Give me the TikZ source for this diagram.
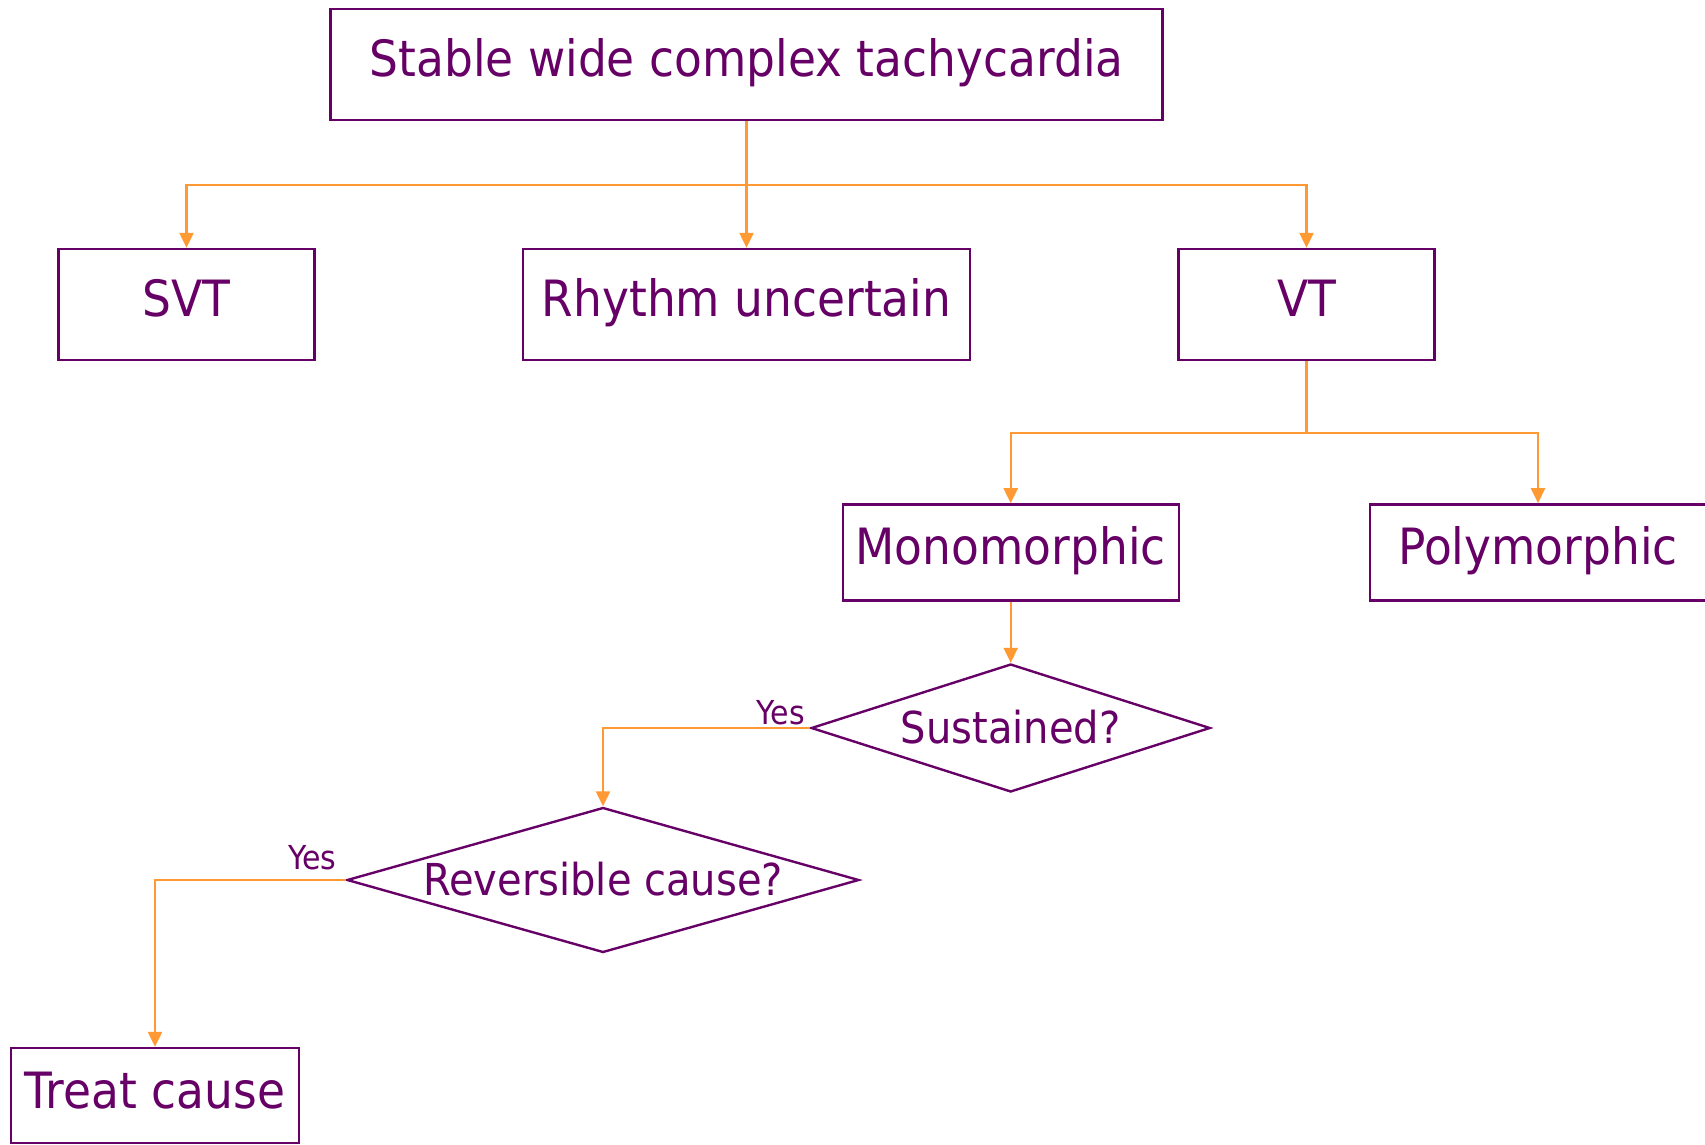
\documentclass[tikz,border=0pt]{standalone}
\usepackage{fontspec}
\usetikzlibrary{arrows.meta,shapes.geometric}
\newfontfamily\chartfont[FakeStretch=0.91]{DejaVu Sans}
\definecolor{plum}{HTML}{660066}
\definecolor{amber}{HTML}{FF9933}
\begin{document}
\begin{tikzpicture}[x=1pt,y=-1pt,
  box/.style={draw=plum,line width=2.4pt,rectangle,inner sep=0pt,
    text=plum,font=\chartfont\fontsize{50}{60}\selectfont,
    text height=36pt,text depth=12pt},
  decision/.style={draw=plum,line width=2.4pt,diamond,inner sep=0pt,
    text=plum,font=\chartfont\fontsize{44}{52}\selectfont,
    text height=32pt,text depth=2pt},
  conn/.style={draw=amber,line width=2.3pt,-{Triangle[width=14pt,length=15pt]}},
  link/.style={draw=amber,line width=2.3pt},
  answer/.style={text=plum,font=\chartfont\fontsize{33}{40}\selectfont,inner sep=0pt}]
\useasboundingbox (0,0) rectangle (1705,1144);
\clip (0,0) rectangle (1705,1144);

% boxes
\node[box,minimum width=832pt,minimum height=111pt] (top) at (746.5,64.2) {Stable wide complex tachycardia};
\node[box,minimum width=256pt,minimum height=111pt] (svt) at (186.5,304.5) {SVT};
\node[box,minimum width=447pt,minimum height=111pt] (rhythm) at (746.5,304.5) {Rhythm uncertain};
\node[box,minimum width=256pt,minimum height=111pt] (vt) at (1306.5,304.5) {VT};
\node[box,minimum width=336pt,minimum height=96pt] (mono) at (1010.7,552.4) {Monomorphic};
\node[box,minimum width=336pt,minimum height=96pt] (poly) at (1538,552.4) {Polymorphic};
\node[box,minimum width=288pt,minimum height=95pt,text depth=10pt] (treat) at (155,1095.5) {Treat cause};

% decisions
\node[decision,minimum width=399pt,minimum height=128pt,aspect=3.12] (sust) at (1010.7,728) {Sustained?};
\node[decision,minimum width=512pt,minimum height=145pt,aspect=3.53] (rev) at (603,880) {Reversible cause?};

% junction points
\coordinate (j1) at (746.5,185);
\coordinate (j2) at (1306.5,432.8);

% connectors
\draw[conn] (top.south) -- (rhythm.north);
\draw[conn] (j1) -| (svt.north);
\draw[conn] (j1) -| (vt.north);
\draw[link] (vt.south) -- (j2);
\draw[conn] (j2) -| (mono.north);
\draw[conn] (j2) -| (poly.north);
\draw[conn] (mono.south) -- (sust.north);
\draw[conn] (sust.west) -| (rev.north);
\draw[conn] (rev.west) -| (treat.north);

% answer labels
\node[answer,anchor=base east] (yes1) at ([xshift=-5pt,yshift=4pt]sust.west) {Yes};
\node[answer,anchor=base east] (yes2) at ([xshift=-9pt,yshift=11pt]rev.west) {Yes};
\end{tikzpicture}
\end{document}
